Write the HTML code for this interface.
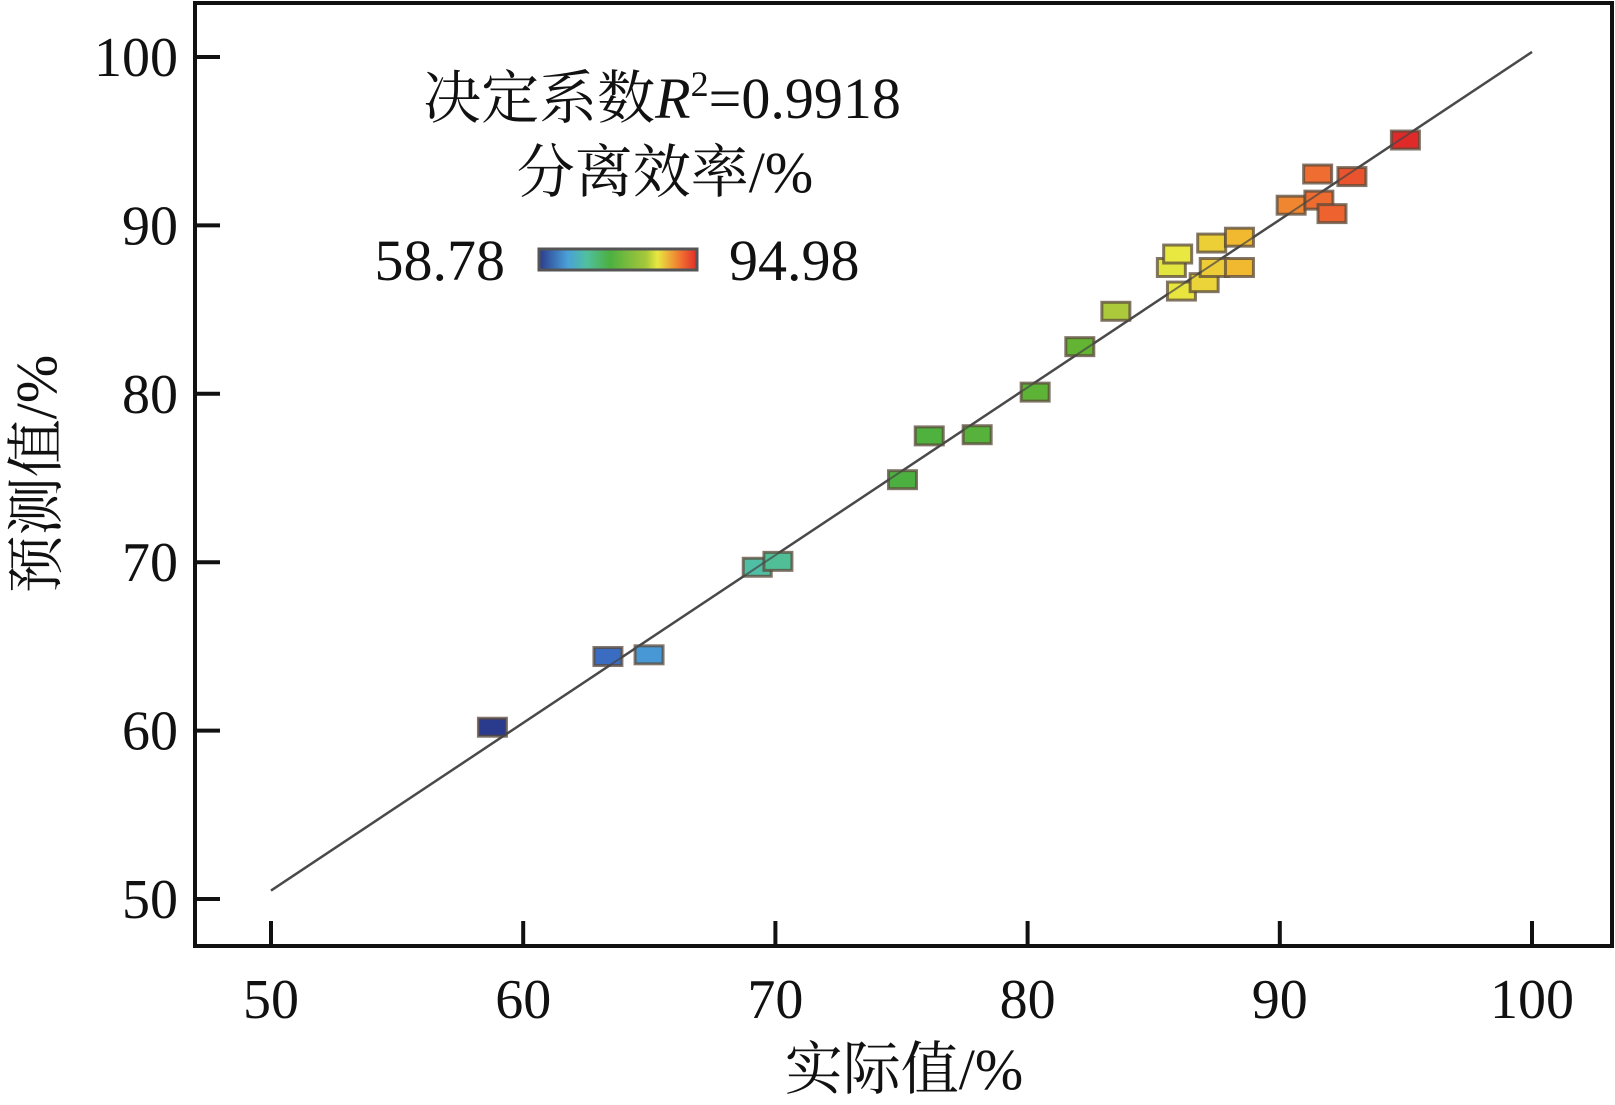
<!DOCTYPE html>
<html><head><meta charset="utf-8">
<style>
html,body{margin:0;padding:0;background:#fff;}
svg{display:block;}
text{font-family:"Liberation Serif","Noto Serif CJK SC","Noto Sans CJK SC",serif;fill:#111;}
</style></head>
<body>
<svg id="chart" width="1615" height="1105" viewBox="0 0 1615 1105" xmlns="http://www.w3.org/2000/svg">
<defs>
<linearGradient id="jet" x1="0" x2="1" y1="0" y2="0">
<stop offset="0" stop-color="#2a3a8c"/>
<stop offset="0.18" stop-color="#4aa0d8"/>
<stop offset="0.3" stop-color="#50c0a0"/>
<stop offset="0.45" stop-color="#4cb040"/>
<stop offset="0.68" stop-color="#a8c83a"/>
<stop offset="0.75" stop-color="#e8e840"/>
<stop offset="0.9" stop-color="#f07030"/>
<stop offset="1" stop-color="#e02a2a"/>
</linearGradient>
</defs>
<g id="marks"></g>
<rect x="195" y="3" width="1417" height="943" fill="none" stroke="#111" stroke-width="4"/>
<g id="axes"></g>
<text x="662" y="118" font-size="58" text-anchor="middle">决定系数<tspan font-style="italic">R</tspan><tspan font-size="36" dy="-22">2</tspan><tspan dy="22">=0.9918</tspan></text>
<text x="665" y="192" font-size="58" text-anchor="middle">分离效率/%</text>
<rect x="539" y="249" width="158" height="21" fill="url(#jet)" stroke="#555" stroke-width="3"/>
<text x="505" y="280" font-size="58" text-anchor="end">58.78</text>
<text x="729" y="280" font-size="58">94.98</text>
<text x="904" y="1089" font-size="58" text-anchor="middle">实际值/%</text>
<text transform="translate(56,474) rotate(-90)" font-size="58" text-anchor="middle">预测值/%</text>
</svg>
<script>
const actual = [58.78,63.36,64.99,69.28,70.1,75.04,76.1,78.0,80.3,82.07,83.5,86.1,87.0,85.7,85.95,87.4,88.4,87.3,88.4,90.45,91.55,92.07,91.5,92.86,94.98];
const predicted = [60.2,64.4,64.5,69.7,70.05,74.9,77.5,77.57,80.1,82.8,84.9,86.1,86.6,87.5,88.3,87.5,87.5,88.95,89.3,91.2,91.5,90.7,93.05,92.9,95.07];
const xTicks = [50,60,70,80,90,100];
const yTicks = [50,60,70,80,90,100];
const fitX = [50,100];
const fitY = [50.5,100.3];
const cMin = 58.78, cMax = 94.98;

const NS = "http://www.w3.org/2000/svg";
const xs = v => 271 + (v-50)*25.22;
const ys = v => 57 + (100-v)*16.84;
function mk(tag, attrs, parent){const e=document.createElementNS(NS,tag);for(const k in attrs)e.setAttribute(k,attrs[k]);parent.appendChild(e);return e;}
const stops=[[0,[42,58,140]],[0.13,[58,110,195]],[0.18,[74,160,216]],[0.3,[80,192,160]],[0.45,[76,176,64]],[0.65,[100,180,50]],[0.68,[168,200,58]],[0.75,[232,232,64]],[0.82,[240,184,48]],[0.9,[240,112,48]],[1,[224,42,42]]];
function color(v){let t=(v-cMin)/(cMax-cMin);t=Math.max(0,Math.min(1,t));
for(let i=1;i<stops.length;i++){if(t<=stops[i][0]){const a=stops[i-1],b=stops[i];const f=(t-a[0])/(b[0]-a[0]);
const c=a[1].map((x,j)=>Math.round(x+(b[1][j]-x)*f));return `rgb(${c[0]},${c[1]},${c[2]})`;}}return "rgb(224,42,42)";}

const g=document.getElementById('marks');
const fit=mk('line',{x1:xs(fitX[0]),y1:ys(fitY[0]),x2:xs(fitX[1]),y2:ys(fitY[1]),stroke:'#555',"stroke-width":2.5},g);


for(let i=0;i<actual.length;i++){
  const r=mk('rect',{x:xs(actual[i])-14,y:ys(predicted[i])-9,width:28,height:18,fill:color(actual[i]),stroke:'#5a4a3a',"stroke-width":3,"stroke-opacity":0.75},g);
  
  
}
const fit2=mk('line',{x1:xs(fitX[0]),y1:ys(fitY[0]),x2:xs(fitX[1]),y2:ys(fitY[1]),stroke:'#444',"stroke-width":2,"stroke-opacity":0.7},g);



const ax=document.getElementById('axes');
xTicks.forEach(v=>{
  const t=mk('line',{x1:xs(v),y1:946,x2:xs(v),y2:921,stroke:'#111',"stroke-width":4},ax);
  
  
  const l=mk('text',{x:xs(v),y:1018,"font-size":56,"text-anchor":"middle"},ax);
  l.textContent=v;
  
  
});
yTicks.forEach(v=>{
  const t=mk('line',{x1:195,y1:ys(v),x2:220,y2:ys(v),stroke:'#111',"stroke-width":4},ax);
  
  
  const l=mk('text',{x:178,y:ys(v)+19,"font-size":56,"text-anchor":"end"},ax);
  l.textContent=v;
  
  
});
</script>
</body></html>
